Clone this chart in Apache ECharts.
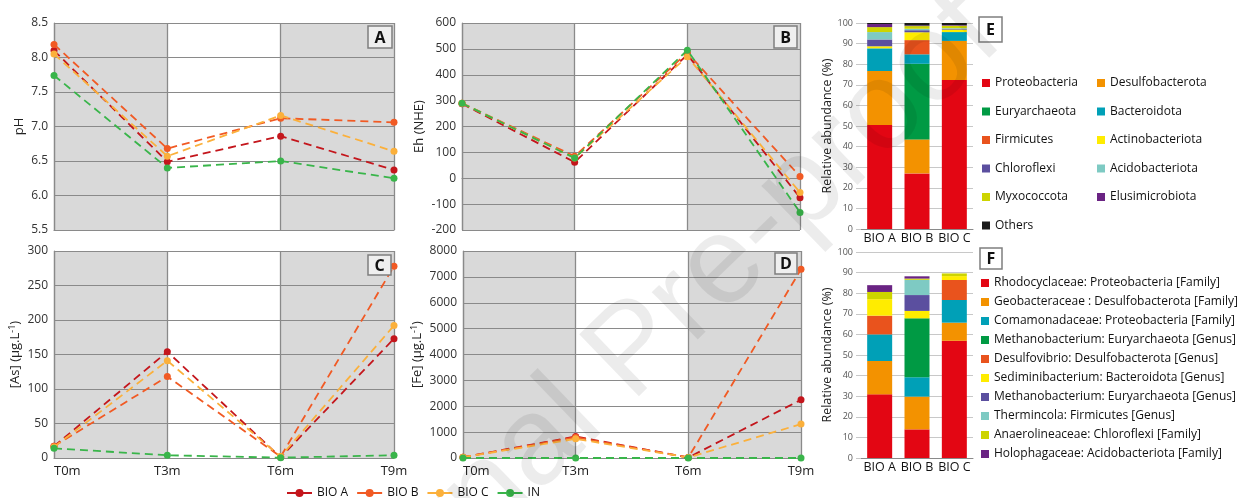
<!DOCTYPE html>
<html><head><meta charset="utf-8">
<script src="https://cdn.jsdelivr.net/npm/echarts@6/dist/echarts.min.js"></script>
<style>html,body{margin:0;padding:0;background:#fff}#c{width:1238px;height:498px}</style>
</head><body><div id="c"></div><script>
// ---------- DATA ----------
const times = ['T0m', 'T3m', 'T6m', 'T9m'];
const lineNames = ['BIO A', 'BIO B', 'BIO C', 'IN'];

const pH_BIOA = [8.10, 6.49, 6.86, 6.37];
const pH_BIOB = [8.19, 6.68, 7.12, 7.06];
const pH_BIOC = [8.05, 6.57, 7.16, 6.64];
const pH_IN   = [7.74, 6.40, 6.50, 6.25];

const Eh_BIOA = [288, 62, 478, -75];
const Eh_BIOB = [290, 85, 485, 7];
const Eh_BIOC = [290, 78, 470, -55];
const Eh_IN   = [290, 78, 495, -132];

const As_BIOA = [17, 154, 1, 173];
const As_BIOB = [17, 118, 2, 278];
const As_BIOC = [16, 141, 2, 192];
const As_IN   = [14, 4, 0.5, 4];

const Fe_BIOA = [30, 830, 20, 2250];
const Fe_BIOB = [30, 800, 20, 7290];
const Fe_BIOC = [30, 740, 20, 1310];
const Fe_IN   = [0, 0, 0, 0];

const reactors = ['BIO A', 'BIO B', 'BIO C'];

// Panel E (phyla), stacked bottom -> top
const phylaNames = ['Proteobacteria', 'Desulfobacterota', 'Euryarchaeota', 'Bacteroidota', 'Firmicutes',
  'Actinobacteriota', 'Chloroflexi', 'Acidobacteriota', 'Myxococcota', 'Elusimicrobiota', 'Others'];
const E_Proteobacteria   = [50.5, 27.0, 72.3];
const E_Desulfobacterota = [26.2, 16.5, 19.0];
const E_Euryarchaeota    = [0, 36.7, 0];
const E_Bacteroidota     = [11.0, 4.6, 4.3];
const E_Firmicutes       = [0, 6.9, 0];
const E_Actinobacteriota = [1.0, 3.8, 1.2];
const E_Chloroflexi      = [3.3, 1.0, 0.4];
const E_Acidobacteriota  = [3.6, 0.7, 0.3];
const E_Myxococcota      = [2.4, 1.3, 1.2];
const E_Elusimicrobiota  = [1.5, 0.3, 0.3];
const E_Others           = [0.5, 1.2, 1.0];

// Panel F (families / genera), stacked bottom -> top
const genusNames = ['Rhodocyclaceae: Proteobacteria [Family]', 'Geobacteraceae : Desulfobacterota [Family]',
  'Comamonadaceae: Proteobacteria [Family]', 'Methanobacterium: Euryarchaeota [Genus]',
  'Desulfovibrio: Desulfobacterota [Genus]', 'Sediminibacterium: Bacteroidota [Genus]',
  'Methanobacterium: Euryarchaeota [Genus]\u00a0', 'Thermincola: Firmicutes [Genus]',
  'Anaerolineaceae: Chloroflexi [Family]', 'Holophagaceae: Acidobacteriota [Family]'];
const F_Rhodocyclaceae    = [30.9, 13.9, 56.9];
const F_Geobacteraceae    = [16.2, 15.9, 8.8];
const F_Comamonadaceae    = [12.9, 9.4, 11.0];
const F_Methanobacterium1 = [0, 28.6, 0];
const F_Desulfovibrio     = [9.1, 0, 9.7];
const F_Sediminibacterium = [8.0, 3.6, 1.9];
const F_Methanobacterium2 = [0, 7.7, 0];
const F_Thermincola       = [0, 7.4, 0];
const F_Anaerolineaceae   = [3.5, 0.6, 1.3];
const F_Holophagaceae     = [3.3, 1.1, 0];

// ---------- STYLE ----------
const FONT = '"Open Sans", "Noto Sans", sans-serif';
const lineColors = ['#C4161C', '#F15A24', '#FBB03B', '#39B54A'];
const phylaColors = ['#E30613', '#F39200', '#009A44', '#00A0B7', '#E9531D', '#FFEC00',
  '#5B4F9F', '#7ECAC3', '#CDD400', '#6A2383', '#1A1A1A'];
const genusColors = ['#E30613', '#F39200', '#00A0B7', '#009A44', '#E9531D', '#FFEC00',
  '#5B4F9F', '#7ECAC3', '#CDD400', '#6A2383'];

const lineSets = [
  [pH_BIOA, pH_BIOB, pH_BIOC, pH_IN],
  [Eh_BIOA, Eh_BIOB, Eh_BIOC, Eh_IN],
  [As_BIOA, As_BIOB, As_BIOC, As_IN],
  [Fe_BIOA, Fe_BIOB, Fe_BIOC, Fe_IN]
];
const phylaData = [E_Proteobacteria, E_Desulfobacterota, E_Euryarchaeota, E_Bacteroidota, E_Firmicutes,
  E_Actinobacteriota, E_Chloroflexi, E_Acidobacteriota, E_Myxococcota, E_Elusimicrobiota, E_Others];
const genusData = [F_Rhodocyclaceae, F_Geobacteraceae, F_Comamonadaceae, F_Methanobacterium1, F_Desulfovibrio,
  F_Sediminibacterium, F_Methanobacterium2, F_Thermincola, F_Anaerolineaceae, F_Holophagaceae];

const grids = [
  {left: 54, top: 23, width: 340, height: 207},
  {left: 462, top: 23, width: 338, height: 207},
  {left: 54, top: 251, width: 340, height: 207},
  {left: 463, top: 251, width: 338, height: 207},
  {left: 861, top: 23, width: 112, height: 206},
  {left: 861, top: 252, width: 112, height: 206}
];

const gridGray = '#8A8A8A';
function lineX(i, showLabels) {
  return {
    type: 'category', gridIndex: i, data: times, boundaryGap: false,
    axisTick: {show: false},
    axisLine: {lineStyle: {color: gridGray, width: 1.2}},
    axisLabel: {show: showLabels, interval: 0, fontFamily: FONT, fontSize: 13, color: '#222', margin: 7,
      alignMinLabel: 'left'},
    splitLine: {show: true, interval: 0, lineStyle: {color: gridGray, width: 1.3}},
    splitArea: {show: true, interval: 0, areaStyle: {color: ['#D9D9D9', '#FFFFFF']}},
    z: 0
  };
}
const supRich = {sup: {fontSize: 9, verticalAlign: 'top', lineHeight: 10, fontFamily: FONT, color: '#222'}};
function lineY(i, min, max, interval, name, gap, fmt) {
  return {
    type: 'value', gridIndex: i, min: min, max: max, interval: interval,
    name: name, nameLocation: 'middle', nameGap: gap,
    nameTextStyle: {fontFamily: FONT, fontSize: 13, color: '#222', lineHeight: 16, rich: supRich},
    axisLine: {show: true, lineStyle: {color: gridGray, width: 1.2}},
    axisTick: {show: false},
    axisLabel: {fontFamily: FONT, fontSize: 12, color: '#333', margin: 6, formatter: fmt},
    splitLine: {lineStyle: {color: gridGray, width: 1.2}},
    z: 1
  };
}
function barX(i) {
  return {
    type: 'category', gridIndex: i, data: reactors,
    axisTick: {show: false},
    axisLine: {lineStyle: {color: '#8A8A8A'}},
    axisLabel: {fontFamily: FONT, fontSize: 12.5, color: '#111', margin: 3, interval: 0}
  };
}
function barY(i) {
  return {
    type: 'value', gridIndex: i, min: 0, max: 100, interval: 10,
    name: 'Relative abundance (%)', nameLocation: 'middle', nameGap: 15,
    nameTextStyle: {fontFamily: FONT, fontSize: 12.5, color: '#222'},
    axisLine: {show: false},
    axisTick: {show: true, length: 5, lineStyle: {color: '#C8C8C8'}},
    axisLabel: {fontFamily: FONT, fontSize: 9, color: '#555', margin: 8},
    splitLine: {lineStyle: {color: '#C8C8C8'}}
  };
}

const series = [];
lineSets.forEach((set, gi) => {
  set.forEach((vals, si) => {
    series.push({
      name: lineNames[si], type: 'line', xAxisIndex: gi, yAxisIndex: gi, data: vals,
      symbol: 'circle', symbolSize: 7,
      lineStyle: {color: lineColors[si], width: 1.8, type: [8, 5]},
      itemStyle: {color: lineColors[si]},
      emphasis: {disabled: true}, z: 3 + si
    });
  });
});
phylaData.forEach((vals, k) => {
  series.push({
    name: phylaNames[k], type: 'bar', stack: 'E', xAxisIndex: 4, yAxisIndex: 4, data: vals,
    barWidth: 25, itemStyle: {color: phylaColors[k]}, emphasis: {disabled: true}
  });
});
genusData.forEach((vals, k) => {
  series.push({
    name: genusNames[k], type: 'bar', stack: 'F', xAxisIndex: 5, yAxisIndex: 5, data: vals,
    barWidth: 25, itemStyle: {color: genusColors[k]}, emphasis: {disabled: true}
  });
});

const boxes = [
  {t: 'A', x: 368, y: 26, w: 24, h: 22, fill: '#EFEFEF'},
  {t: 'B', x: 774, y: 26, w: 23, h: 22, fill: '#EFEFEF'},
  {t: 'C', x: 368, y: 255, w: 23, h: 20, fill: '#EFEFEF'},
  {t: 'D', x: 775, y: 253, w: 22, h: 21, fill: '#EFEFEF'},
  {t: 'E', x: 979, y: 17, w: 23, h: 25, fill: '#FFFFFF'},
  {t: 'F', x: 980, y: 248, w: 22, h: 21, fill: '#FFFFFF'}
];
const graphic = [];
boxes.forEach(b => {
  graphic.push({type: 'rect', shape: {x: b.x, y: b.y, width: b.w, height: b.h}, z: 50,
    style: {fill: b.fill, stroke: '#7F7F7F', lineWidth: 1.5}, silent: true});
  graphic.push({type: 'text', x: b.x + b.w / 2, y: b.y + b.h / 2 + 1, z: 51, silent: true,
    style: {text: b.t, fontFamily: FONT, fontWeight: 'bold', fontSize: 16, fill: '#111',
      textAlign: 'center', textVerticalAlign: 'middle'}});
});
graphic.push({type: 'text', x: 635, y: 352, rotation: 44 * Math.PI / 180, z: 100, silent: true,
  style: {text: 'Journal Pre-proof', fontFamily: '"Liberation Sans", sans-serif', fontSize: 125,
    fill: 'rgba(0,0,0,0.075)', textAlign: 'center', textVerticalAlign: 'middle'}});

const legendText = {fontFamily: FONT, color: '#111'};
const option = {
  animation: false,
  backgroundColor: '#fff',
  grid: grids,
  xAxis: [lineX(0, false), lineX(1, false), lineX(2, true), lineX(3, true), barX(4), barX(5)],
  yAxis: [
    lineY(0, 5.5, 8.5, 0.5, 'pH', 23, v => v.toFixed(1)),
    lineY(1, -200, 600, 100, 'Eh (NHE)', 23, v => String(v)),
    lineY(2, 0, 300, 50, '[As] (µg.L{sup|-1})', 16, v => String(v)),
    lineY(3, 0, 8000, 1000, '[Fe] (µg.L{sup|-1})', 26, v => String(v)),
    barY(4), barY(5)
  ],
  legend: [
    {data: lineNames, left: 286, top: 487, padding: 0, itemWidth: 25, itemHeight: 10, itemGap: 8,
      textStyle: Object.assign({fontSize: 12}, legendText), lineStyle: {type: 'solid'},
      selectedMode: false},
    {data: [phylaNames[0], phylaNames[2], phylaNames[4], phylaNames[6], phylaNames[8], phylaNames[10]],
      orient: 'vertical', left: 982, top: 77, padding: 0, itemWidth: 8, itemHeight: 8, itemGap: 16.5, icon: 'rect',
      textStyle: Object.assign({fontSize: 12}, legendText), selectedMode: false},
    {data: [phylaNames[1], phylaNames[3], phylaNames[5], phylaNames[7], phylaNames[9]],
      orient: 'vertical', left: 1097, top: 77, padding: 0, itemWidth: 8, itemHeight: 8, itemGap: 16.5, icon: 'rect',
      textStyle: Object.assign({fontSize: 12}, legendText), selectedMode: false},
    {data: genusNames, orient: 'vertical', left: 981, top: 277, padding: 0, itemWidth: 8, itemHeight: 8, itemGap: 7,
      icon: 'rect', textStyle: Object.assign({fontSize: 12}, legendText), selectedMode: false}
  ],
  graphic: graphic,
  series: series
};
const chart = echarts.init(document.getElementById('c'), null, {renderer: 'canvas'});
chart.setOption(option);
</script></body></html>
